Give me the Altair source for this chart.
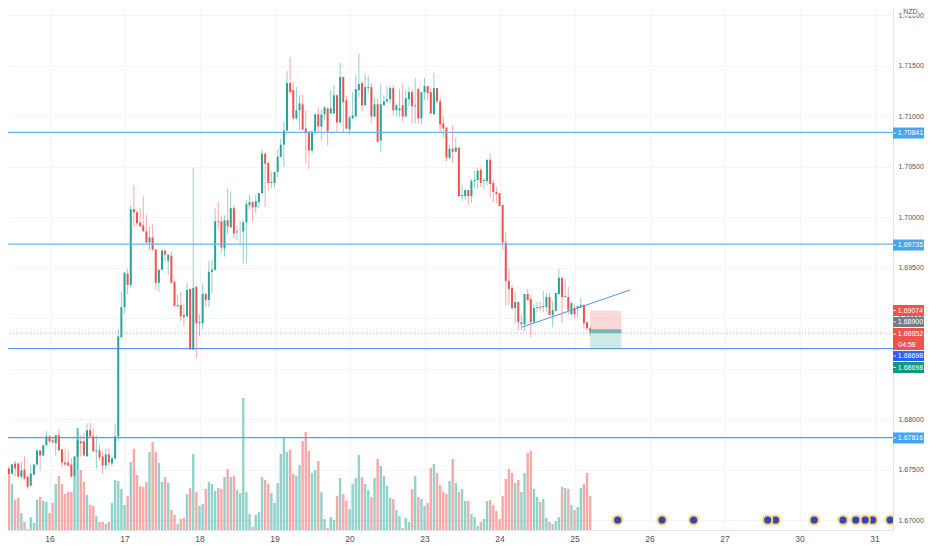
import altair as alt
import pandas as pd

FONT = "Liberation Sans"
GREEN = "#26a69a"
RED = "#ef5350"
GRID = "#f3f5fa"
AXIS_TEXT = "#50535e"

# candle prices, as pips above 1.67000, one hourly candle per entry
first_hour = -13
open_pips = [51,46,56,56,43,50,43,34,45,55,69,64,74,
 83,79,76,84,70,57,57,55,43,63,78,78,63,89,83,68,69,63,54,65,56,61,83,181,
 211,244,233,308,305,295,292,286,275,280,268,235,248,267,257,262,236,212,213,203,202,229,169,231,
 195,195,224,218,246,248,296,296,269,297,290,309,285,286,286,295,312,315,310,315,324,363,354,334,
 334,345,360,372,386,433,426,398,406,412,388,385,366,385,402,390,402,408,403,403,421,394,439,416,
 387,398,400,426,433,411,428,429,400,412,376,411,415,417,428,406,406,411,400,417,424,410,427,398,
 424,430,424,402,428,415,393,389,359,368,365,369,321,321,327,321,336,337,347,336,336,357,334,325,
 324,312,275,237,230,210,216,194,194,224,219,196,210,211,211,211,221,203,207,224,240,221,221,204,210,210,211,213,196,190]
high_pips = [54,56,59,57,58,63,43,55,56,70,69,74,88,
 84,83,84,90,70,71,69,61,63,91,84,86,96,96,91,84,75,68,71,71,64,95,189,226,
 246,249,312,332,305,309,321,302,291,293,268,248,268,268,263,266,238,223,226,215,235,229,349,232,
 204,235,225,257,258,309,315,302,302,329,326,312,291,296,297,317,322,316,322,324,367,364,354,345,
 345,367,378,395,445,459,434,429,421,421,406,385,386,403,409,407,410,408,426,431,421,453,439,420,
 401,424,441,462,435,442,440,433,418,418,432,421,430,431,431,413,427,432,426,429,427,438,428,424,
 438,430,428,443,428,419,400,389,372,391,379,369,332,327,327,338,346,349,349,339,357,363,337,330,
 324,312,285,250,233,226,216,203,224,229,223,214,216,216,227,225,225,217,225,249,240,239,231,216,213,212,220,214,196,192]
low_pips = [43,45,43,42,41,40,31,34,44,54,49,63,74,
 76,76,64,69,52,53,53,42,42,50,63,63,63,81,68,51,59,46,50,54,53,60,78,181,
 205,224,230,291,291,291,286,274,267,266,228,226,248,256,243,235,212,210,197,192,201,169,168,160,
 182,189,211,211,225,247,288,265,261,283,290,279,277,272,254,254,308,296,304,309,323,310,326,329,
 329,340,359,350,386,423,396,396,387,386,353,348,363,383,385,376,396,371,402,402,384,393,383,387,
 382,397,400,419,405,411,423,393,399,373,365,411,413,413,401,401,400,395,399,410,393,393,393,392,
 416,416,402,402,413,384,379,355,358,354,364,320,316,317,312,314,329,328,330,328,332,320,315,314,
 311,268,213,213,208,195,188,188,187,217,181,196,206,207,206,206,203,191,207,223,195,221,203,203,200,200,210,189,188,182]
close_pips = [45,55,51,43,49,41,33,46,55,69,64,74,83,
 78,77,84,69,57,55,54,43,63,79,76,64,89,83,68,69,62,54,65,57,61,83,182,211,
 245,233,308,305,294,291,286,275,280,268,235,248,267,263,263,235,212,213,202,201,228,169,230,195,
 196,224,218,246,248,296,295,270,297,291,309,284,286,286,295,313,315,310,316,324,363,353,334,335,
 345,360,372,386,433,424,398,406,413,387,384,366,385,402,390,402,409,385,408,421,394,439,414,388,
 399,401,427,432,411,429,429,400,412,375,412,415,417,428,406,411,408,400,418,424,410,411,398,424,
 430,423,403,428,415,392,388,359,368,365,369,321,322,327,321,336,337,346,334,337,357,333,325,323,
 311,275,237,229,210,216,196,196,224,218,196,210,211,210,212,221,203,208,225,240,221,222,208,215,204,212,213,195,190,186]
volume = [54,46,30,32,17,8,1,13,7,30,33,29,28,
 17,27,46,54,46,36,38,38,53,102,60,48,35,25,24,14,8,8,6,8,27,50,49,41,
 25,34,68,81,55,44,43,48,78,88,78,67,48,53,47,20,15,6,11,12,36,42,76,38,
 24,26,41,48,46,39,42,41,53,61,53,54,40,37,132,38,16,3,15,18,53,50,46,37,
 27,47,76,93,78,80,56,54,65,89,98,79,57,60,69,38,11,2,13,10,34,52,36,29,
 21,46,52,75,53,46,40,33,52,71,64,54,44,32,31,20,14,2,12,8,41,54,33,31,
 24,27,62,66,57,45,38,36,49,71,47,38,41,29,29,16,13,4,8,11,29,30,25,19,
 11,34,51,61,57,47,50,38,57,77,79,41,33,28,31,12,8,6,9,13,43,42,41,25,20,23,42,46,57,34]

day_labels = ["16","17","18","19","20","23","24","25","26","27","30","31"]
day_hours = [0,24,48,72,96,120,144,168,192,216,240,264]
price_ticks = [1.67,1.675,1.68,1.685,1.69,1.695,1.70,1.705,1.71,1.715,1.72]

level_prices = [1.70841,1.69735,1.67816,1.68698]
level_colors = ["#64b5f6","#64b5f6","#42a5f5","#4f7fe8"]
level_widths = [1.3,1.3,1.2,1.0]

trend_hours = [151.1,185.8]
trend_prices = [1.6891,1.6928]

position_hours = [173,183]
stop_prices = [1.69074,1.68890]
target_prices = [1.68890,1.68698]
filled_prices = [1.68890,1.68852]

current_price = 1.68852
event_hours = [269,263.4,261,258,253.9,244.7,232.3,229.8,206.1,196,181.8]
event_price = [1.67]*len(event_hours)

tag_labels = ["1.70841","1.69735","1.67816","1.69074","1.68900","1.68852","1.68698","1.68698"]
tag_places = [1.70835,1.69725,1.67813,1.69076,1.68962,1.68794,1.68625,1.68511]
tag_colors = ["#42a5f5","#42a5f5","#42a5f5",RED,"#787b86",RED,"#2962ff","#089981"]
tag_heights = [11,11,11,11,10,22,10,11]
tag_text_places = [1.70835,1.69725,1.67813,1.69076,1.68962,1.68843,1.68625,1.68511]
timer_label = ["04:58"]
timer_place = [1.68734]

W, H = 885, 522
RIGHT = 31
TAG_L, TAG_R = W, W + RIGHT
x_scale = alt.Scale(domain=[-13.28,269.9], nice=False, zero=False, padding=0)
y_scale = alt.Scale(domain=[1.66901,1.72074], nice=False, zero=False, padding=0)
vol_scale = alt.Scale(domain=[0,H], nice=False, zero=False, padding=0)
dir_color = alt.Color("dir:N", scale=alt.Scale(domain=["up","down"], range=[GREEN,RED]), legend=None)

rows = pd.DataFrame({
    "hour": [first_hour + i for i in range(len(open_pips))],
    "open": [1.67 + p/10000 for p in open_pips],
    "high": [1.67 + p/10000 for p in high_pips],
    "low": [1.67 + p/10000 for p in low_pips],
    "close": [1.67 + p/10000 for p in close_pips],
    "vol": volume,
})
rows["dir"] = ["up" if c >= o else "down" for o, c in zip(open_pips, close_pips)]

label_expr = "[" + ",".join(f"'{d}'" for d in day_labels) + "][datum.value/24]"
x_axis = alt.Axis(values=day_hours, labelExpr=label_expr, title=None, grid=True, gridColor=GRID,
                  ticks=False, domainColor="#e0e3eb", labelColor=AXIS_TEXT, labelFont=FONT,
                  labelFontSize=8.5, labelPadding=4, labelFlush=False)
y_axis = alt.Axis(values=price_ticks, format=".5f", orient="right", title=None, grid=True, gridColor=GRID,
                  ticks=False, domainColor="#e0e3eb", labelColor=AXIS_TEXT, labelFont=FONT,
                  labelFontSize=7, labelPadding=5)
X = alt.X("hour:Q", scale=x_scale, axis=x_axis)

vol_layer = alt.Chart(rows).mark_bar(size=2.4, opacity=0.5, clip=True).encode(
    x=X, y=alt.Y("vol:Q", scale=vol_scale, axis=None), color=dir_color)

def P(f):
    return alt.Y(f, scale=y_scale, axis=None)

axes_carrier = alt.Chart(rows).mark_rule(opacity=0).encode(
    x=X, y=alt.Y("low:Q", scale=y_scale, axis=y_axis))
wicks = alt.Chart(rows).mark_rule(strokeWidth=1, opacity=0.5, clip=True).encode(
    x=X, y=P("low:Q"), y2="high:Q", color=dir_color)
bodies = alt.Chart(rows).mark_bar(size=2, clip=True).encode(
    x=X, y=P("open:Q"), y2="close:Q", color=dir_color)

levels = alt.Chart(pd.DataFrame({"p": level_prices, "c": level_colors, "w": level_widths})).mark_rule().encode(
    y=P("p:Q"), color=alt.Color("c:N", scale=None), strokeWidth=alt.StrokeWidth("w:Q", scale=None))
current = alt.Chart(pd.DataFrame({"p": [current_price]})).mark_rule(
    color=RED, opacity=0.6, strokeWidth=1, strokeDash=[1,2]).encode(y=P("p:Q"))
trend = alt.Chart(pd.DataFrame({"hour": trend_hours, "p": trend_prices})).mark_line(
    color="#5b8def", strokeWidth=1).encode(x=X, y=P("p:Q"))

def box(prices, color, opacity):
    d = pd.DataFrame({"a": [position_hours[0]], "b": [position_hours[1]], "lo": [prices[0]], "hi": [prices[1]]})
    return alt.Chart(d).mark_rect(color=color, opacity=opacity).encode(
        x=alt.X("a:Q", scale=x_scale, axis=x_axis), x2="b:Q", y=P("lo:Q"), y2="hi:Q")

stop_box = box(stop_prices, RED, 0.22)
target_box = box(target_prices, GREEN, 0.22)
filled_box = box(filled_prices, "#74b9b1", 1)

events = alt.Chart(pd.DataFrame({"hour": event_hours, "p": event_price})).mark_point(
    filled=True, size=85, fill="#2f4cab", stroke="#ffcf87", strokeWidth=2, opacity=1, fillOpacity=1, clip=True).encode(
    x=X, y=P("p:Q"))

tags = pd.DataFrame({"place": tag_places, "text_place": tag_text_places, "label": tag_labels,
                     "c": tag_colors, "h": tag_heights})
tag_boxes = alt.Chart(tags).mark_rule().encode(
    x=alt.value(TAG_L), x2=alt.value(TAG_R), y=P("place:Q"),
    color=alt.Color("c:N", scale=None), strokeWidth=alt.StrokeWidth("h:Q", scale=None))
tag_ticks = alt.Chart(tags).mark_rule(color="white", strokeWidth=0.8).encode(
    x=alt.value(TAG_L), x2=alt.value(TAG_L + 3), y=P("text_place:Q"))
tag_text = alt.Chart(tags).mark_text(font=FONT, fontSize=7, color="white", align="center", baseline="middle").encode(
    x=alt.value(TAG_L + 17.5), y=P("text_place:Q"), text="label:N")
timer = alt.Chart(pd.DataFrame({"t": timer_label, "p": timer_place})).mark_text(
    font=FONT, fontSize=7, color="white", align="center", baseline="middle").encode(
    x=alt.value(TAG_L + 14), y=P("p:Q"), text="t:N")

currency = pd.DataFrame({"t": ["NZD"]})
nzd_box = alt.Chart(currency).mark_rect(fill="white", stroke="#b2b5be", strokeWidth=0.6, cornerRadius=2).encode(
    x=alt.value(W + 10), x2=alt.value(W + 25), y=alt.value(0), y2=alt.value(8))
nzd_text = alt.Chart(currency).mark_text(font=FONT, fontSize=6.5, color=AXIS_TEXT, align="center", baseline="middle").encode(
    x=alt.value(W + 17.5), y=alt.value(4), text="t:N")

chart = alt.layer(vol_layer, axes_carrier, wicks, bodies, levels, current, trend, stop_box, target_box, filled_box,
                  events, tag_boxes, tag_ticks, tag_text, timer, nzd_box, nzd_text).resolve_scale(y="independent").properties(
    width=W, height=H, background="white",
    padding={"left": 0, "top": 0, "right": RIGHT, "bottom": 12},
    autosize=alt.AutoSizeParams(type="none"),
).configure_view(stroke=None)

chart.save("out.html", embed_options={"renderer": "svg", "actions": False})
